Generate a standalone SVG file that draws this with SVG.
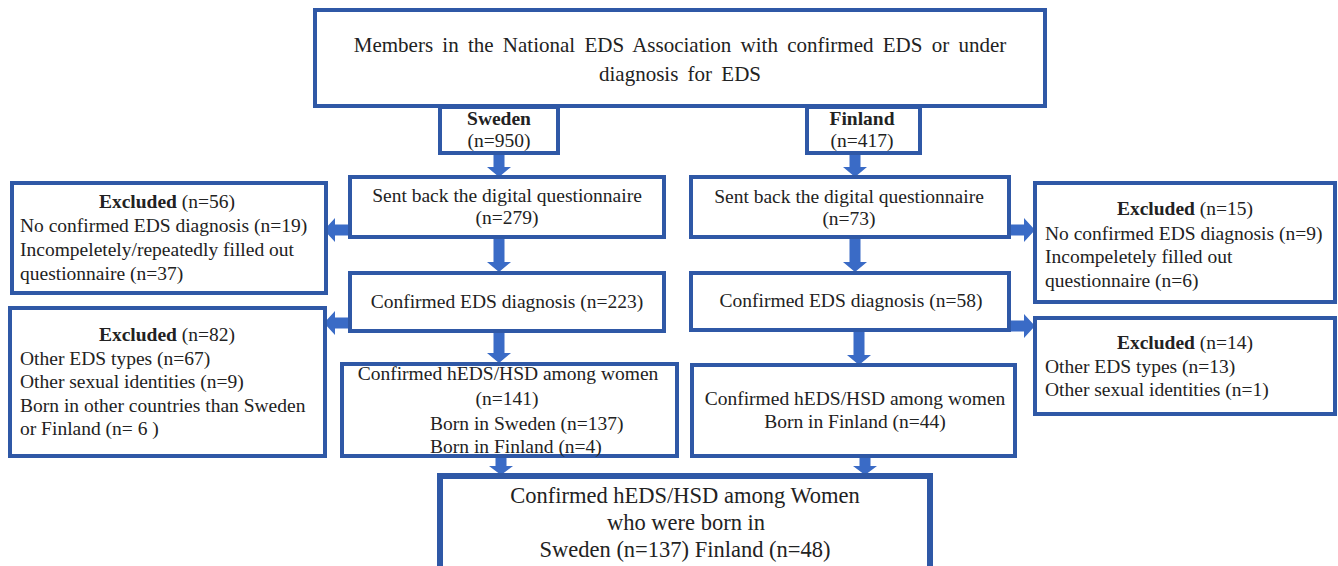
<svg xmlns="http://www.w3.org/2000/svg" width="1338" height="566" viewBox="0 0 1338 566">
<style>
.box{fill:#fff;stroke:#2F58A6;stroke-width:4}
.fbox{fill:#fff;stroke:#2F58A6;stroke-width:6}
text{font-family:"Liberation Serif","Times New Roman",serif;font-size:19.5px;fill:#222}
.c{text-anchor:middle}
.b{font-weight:bold}
.big{font-size:22.5px}
.top{font-size:21px;word-spacing:4px}
.arr{fill:#3A6BC6}
</style>
<rect width="1338" height="566" fill="#fff"/>
<g id="connectors">
<path class="arr" d="M493.5,153H504.5V167H511L499,177L487,167H493.5Z"/>
<path class="arr" d="M849.5,153H860.5V167H867L855,177L843,167H849.5Z"/>
<path class="arr" d="M493.5,237H504.5V262H511L499,272L487,262H493.5Z"/>
<path class="arr" d="M849.5,237H860.5V262H867L855,272L843,262H849.5Z"/>
<path class="arr" d="M493.5,331H504.5V353H511L499,363L487,353H493.5Z"/>
<path class="arr" d="M853.5,330H864.5V355H871L859,365L847,355H853.5Z"/>
<path class="arr" d="M495.5,456H506.5V466H513L501,475L489,466H495.5Z"/>
<path class="arr" d="M859.5,456H870.5V466H877L865,475L853,466H859.5Z"/>
<path class="arr" d="M350,224.5V235.5H335V242L324,230L335,218V224.5Z"/>
<path class="arr" d="M350,317.5V328.5H335V335L324,323L335,311V317.5Z"/>
<path class="arr" d="M1009,224.5V235.5H1024V242L1035,230L1024,218V224.5Z"/>
<path class="arr" d="M1009,320.5V331.5H1024V338L1035,326L1024,314V320.5Z"/>
</g>
<g id="top">
<rect class="box" x="315" y="10" width="730" height="96"/>
<text class="c top" x="680" y="52">Members in the National EDS Association with confirmed EDS or under</text>
<text class="c top" x="680" y="81">diagnosis for EDS</text>
</g>
<g id="sweden">
<rect class="box" x="440" y="107" width="118" height="46"/>
<text class="c b" x="499" y="125">Sweden</text>
<text class="c" x="499" y="147">(n=950)</text>
</g>
<g id="finland">
<rect class="box" x="807" y="107" width="113" height="46"/>
<text class="c b" x="862" y="125">Finland</text>
<text class="c" x="862" y="147">(n=417)</text>
</g>
<g id="se-sent">
<rect class="box" x="350" y="177" width="314" height="60"/>
<text class="c" x="507" y="202">Sent back the digital  questionnaire</text>
<text class="c" x="507" y="224">(n=279)</text>
</g>
<g id="fi-sent">
<rect class="box" x="691" y="177" width="318" height="60"/>
<text class="c" x="849" y="203">Sent back the digital  questionnaire</text>
<text class="c" x="849" y="225">(n=73)</text>
</g>
<g id="se-excl1">
<rect class="box" x="12" y="183" width="314" height="110"/>
<text class="c" x="167" y="208"><tspan class="b">Excluded</tspan>  (n=56)</text>
<text x="20" y="232">No confirmed EDS diagnosis (n=19)</text>
<text x="20" y="256">Incompeletely/repeatedly  filled  out</text>
<text x="20" y="280">questionnaire  (n=37)</text>
</g>
<g id="fi-excl1">
<rect class="box" x="1035" y="183" width="300" height="119"/>
<text class="c" x="1185" y="215"><tspan class="b">Excluded</tspan>  (n=15)</text>
<text x="1045" y="240">No confirmed EDS diagnosis (n=9)</text>
<text x="1045" y="263">Incompeletely filled  out</text>
<text x="1045" y="287">questionnaire  (n=6)</text>
</g>
<g id="se-conf">
<rect class="box" x="350" y="273" width="314" height="58"/>
<text class="c" x="507" y="308">Confirmed EDS diagnosis  (n=223)</text>
</g>
<g id="fi-conf">
<rect class="box" x="691" y="273" width="318" height="57"/>
<text class="c" x="851" y="307">Confirmed EDS  diagnosis  (n=58)</text>
</g>
<g id="se-excl2">
<rect class="box" x="10" y="308" width="315" height="148"/>
<text class="c" x="167" y="341"><tspan class="b">Excluded</tspan>  (n=82)</text>
<text x="20" y="365">Other EDS types (n=67)</text>
<text x="20" y="388">Other sexual  identities  (n=9)</text>
<text x="20" y="412">Born in other countries than Sweden</text>
<text x="20" y="435">or Finland  (n= 6 )</text>
</g>
<g id="fi-excl2">
<rect class="box" x="1035" y="318" width="300" height="96"/>
<text class="c" x="1185" y="349"><tspan class="b">Excluded</tspan>  (n=14)</text>
<text x="1045" y="373">Other EDS types (n=13)</text>
<text x="1045" y="396">Other sexual  identities  (n=1)</text>
</g>
<g id="se-hseds">
<rect class="box" x="342" y="364" width="335" height="92"/>
<text class="c" x="508" y="380">Confirmed hEDS/HSD among women</text>
<text class="c" x="507" y="405">(n=141)</text>
<text x="430" y="430">Born in Sweden (n=137)</text>
<text x="430" y="453">Born in Finland  (n=4)</text>
</g>
<g id="fi-hseds">
<rect class="box" x="692" y="365" width="323" height="91"/>
<text class="c" x="855" y="405">Confirmed hEDS/HSD among women</text>
<text class="c" x="855" y="428">Born in Finland (n=44)</text>
</g>
<g id="final">
<rect class="fbox" x="440" y="476" width="490" height="100"/>
<text class="c big" x="685" y="503">Confirmed hEDS/HSD  among  Women</text>
<text class="c big" x="686" y="530">who were born in</text>
<text class="c big" x="685" y="557">Sweden   (n=137) Finland  (n=48)</text>
</g>
</svg>
